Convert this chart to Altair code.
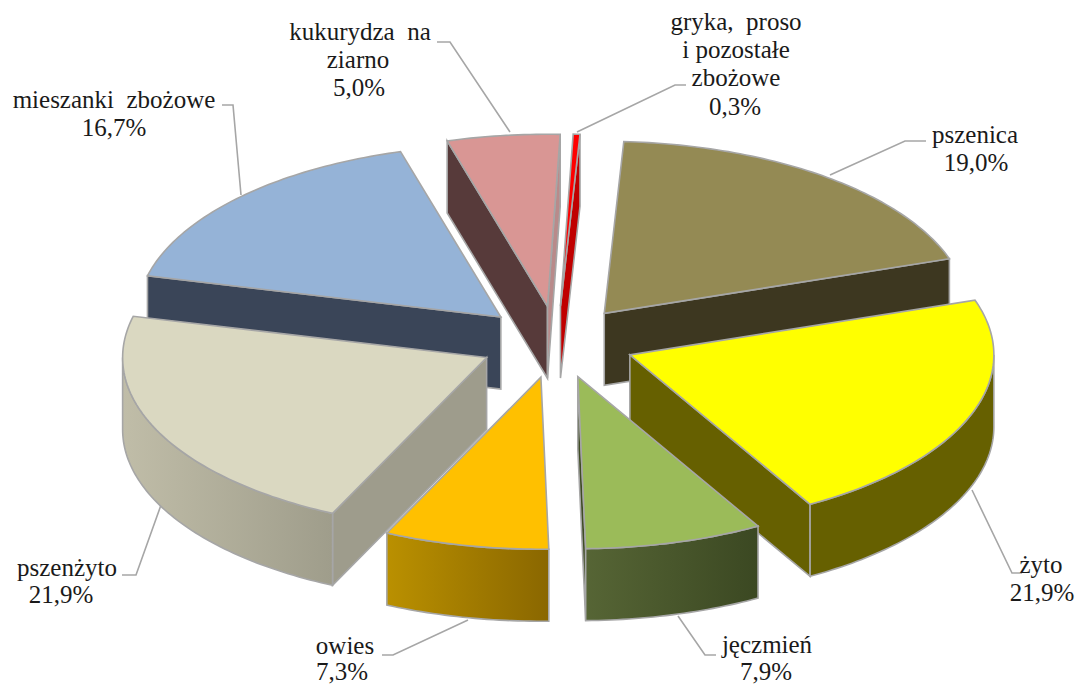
import math
import altair as alt

# --- data ---
categories = ["gryka, proso i pozostałe zbożowe", "pszenica", "żyto", "jęczmień", "owies",
              "pszenżyto", "mieszanki zbożowe", "kukurydza na ziarno"]
shares = [0.3, 19.0, 21.9, 7.9, 7.3, 21.9, 16.7, 5.0]
label_lines = [
    ["gryka,\u00a0\u00a0proso", "i pozostałe", "zbożowe", "0,3%"],
    ["pszenica", "19,0%"],
    ["żyto", "21,9%"],
    ["jęczmień", "7,9%"],
    ["owies", "7,3%"],
    ["pszenżyto", "21,9%"],
    ["mieszanki\u00a0\u00a0zbożowe", "16,7%"],
    ["kukurydza\u00a0\u00a0na", "ziarno", "5,0%"],
]

# --- styles ---
top_colors = ["#ff0000", "#948a54", "#ffff00", "#9bbb59", "#ffc000", "#dad8c1", "#95b3d7", "#d99694"]
start_wall = ["#c00000", "#3d3720", "#666000", "#3f4c24", "#8a6700", "#9e9c8c", "#3a4558", "#573a3a"]
end_wall = ["#c00000", "#3d3720", "#666000", "#3f4c24", "#8a6700", "#9e9c8c", "#3a4558", "#b98a8a"]
arc_colors = [("#c00000", "#c00000"), ("#3d3720", "#3d3720"), ("#666000", "#666000"), ("#566535", "#3b4822"),
              ("#ba9000", "#8a6700"), ("#c0bda8", "#9f9d8b"), ("#3a4558", "#3a4558"), ("#573a3a", "#573a3a")]
draw_order = [6, 7, 0, 1, 2, 5, 3, 4]
label_pos = [
    [(736, 22), (736, 50), (736, 78), (735, 107)],
    [(975, 135), (976, 163)],
    [(1041, 565), (1042, 593)],
    [(767, 645), (766, 672)],
    [(345, 646), (342, 672)],
    [(67, 568), (61, 595)],
    [(114, 100), (114, 128)],
    [(360, 32), (358, 60), (359, 88)],
]
leaders = [
    [(577, 132), (675, 85), (686, 85)],
    [(830, 175), (905, 141), (926, 141)],
    [(972, 490), (1012, 573), (1022, 573)],
    [(678, 616), (705, 655), (716, 655)],
    [(468, 620), (393, 655), (382, 655)],
    [(161, 505), (136, 575), (122, 575)],
    [(241, 195), (233, 105), (222, 105)],
    [(510, 132), (450, 42), (437, 42)],
]
CX, CY, A, B, DEPTH, EX, EY, ROT = 557, 342, 364, 172, 72, 78, 36, 2.0
STROKE = "#a6a6a6"
W, H = 1069, 678


def rim(tip, deg):
    r = math.radians(deg)
    return (tip[0] + A * math.sin(r), tip[1] - B * math.cos(r))


def down(p):
    return (p[0], p[1] + DEPTH)


def arc_points(tip, a1, a2):
    n = max(2, int(abs(a2 - a1)) + 1)
    return [rim(tip, a1 + (a2 - a1) * i / n) for i in range(n + 1)]


def feature(points, closed=True):
    pts = [[x - 8, y - 8] for x, y in points]
    if closed:
        pts = pts + [pts[0]]
        geom = {"type": "Polygon", "coordinates": [pts]}
    else:
        geom = {"type": "LineString", "coordinates": pts}
    return {"type": "Feature", "properties": {}, "geometry": geom}


def face(points, fill, width=1.6):
    return alt.Chart(alt.Data(values=[feature(points)])).mark_geoshape(
        filled=True, fill=fill, stroke=STROKE, strokeWidth=width)


layers = []
for pts in leaders:
    layers.append(alt.Chart(alt.Data(values=[feature(pts, closed=False)])).mark_geoshape(
        filled=False, stroke=STROKE, strokeWidth=1.6))

starts = []
total = ROT
for s in shares:
    starts.append(total)
    total += s * 3.6

for i in draw_order:
    a1, a2 = starts[i], starts[i] + shares[i] * 3.6
    mid = math.radians((a1 + a2) / 2)
    tip = (CX + EX * math.sin(mid), CY - EY * math.cos(mid))
    # radial side faces which turn towards the viewer
    if math.sin(math.radians(a1)) < 0:
        e = rim(tip, a1)
        layers.append(face([tip, e, down(e), down(tip)], start_wall[i]))
    if math.sin(math.radians(a2)) > 0:
        e = rim(tip, a2)
        layers.append(face([tip, e, down(e), down(tip)], end_wall[i]))
    # outer rim
    lo, hi = max(a1, 90), min(a2, 270)
    if lo < hi:
        pts = arc_points(tip, lo, hi)
        ring = pts + [down(p) for p in reversed(pts)]
        c1, c2 = arc_colors[i]
        grad = alt.Gradient(gradient="linear", x1=0, x2=1, y1=0, y2=0,
                            stops=[alt.GradientStop(color=c1, offset=0),
                                   alt.GradientStop(color=c2, offset=1)])
        layers.append(face(ring, grad))
    # top face
    layers.append(face([tip] + arc_points(tip, a1, a2), top_colors[i]))

rows = []
for lines, poss in zip(label_lines, label_pos):
    for t, (x, y) in zip(lines, poss):
        rows.append({"t": t, "x": x - 8, "y": y - 8})

text = alt.Chart(alt.Data(values=rows)).mark_text(
    font="Liberation Serif", fontSize=25, color="#1a1a1a", align="center", baseline="middle"
).encode(longitude="x:Q", latitude="y:Q", text="t:N")
layers.append(text)

chart = alt.layer(*layers).project(
    type="identity", scale=1, translate=[0, 0], reflectY=False
).properties(width=W, height=H, padding=0, background="white").configure_view(stroke=None)

chart.save("out.html", embed_options={"renderer": "svg", "actions": False})
